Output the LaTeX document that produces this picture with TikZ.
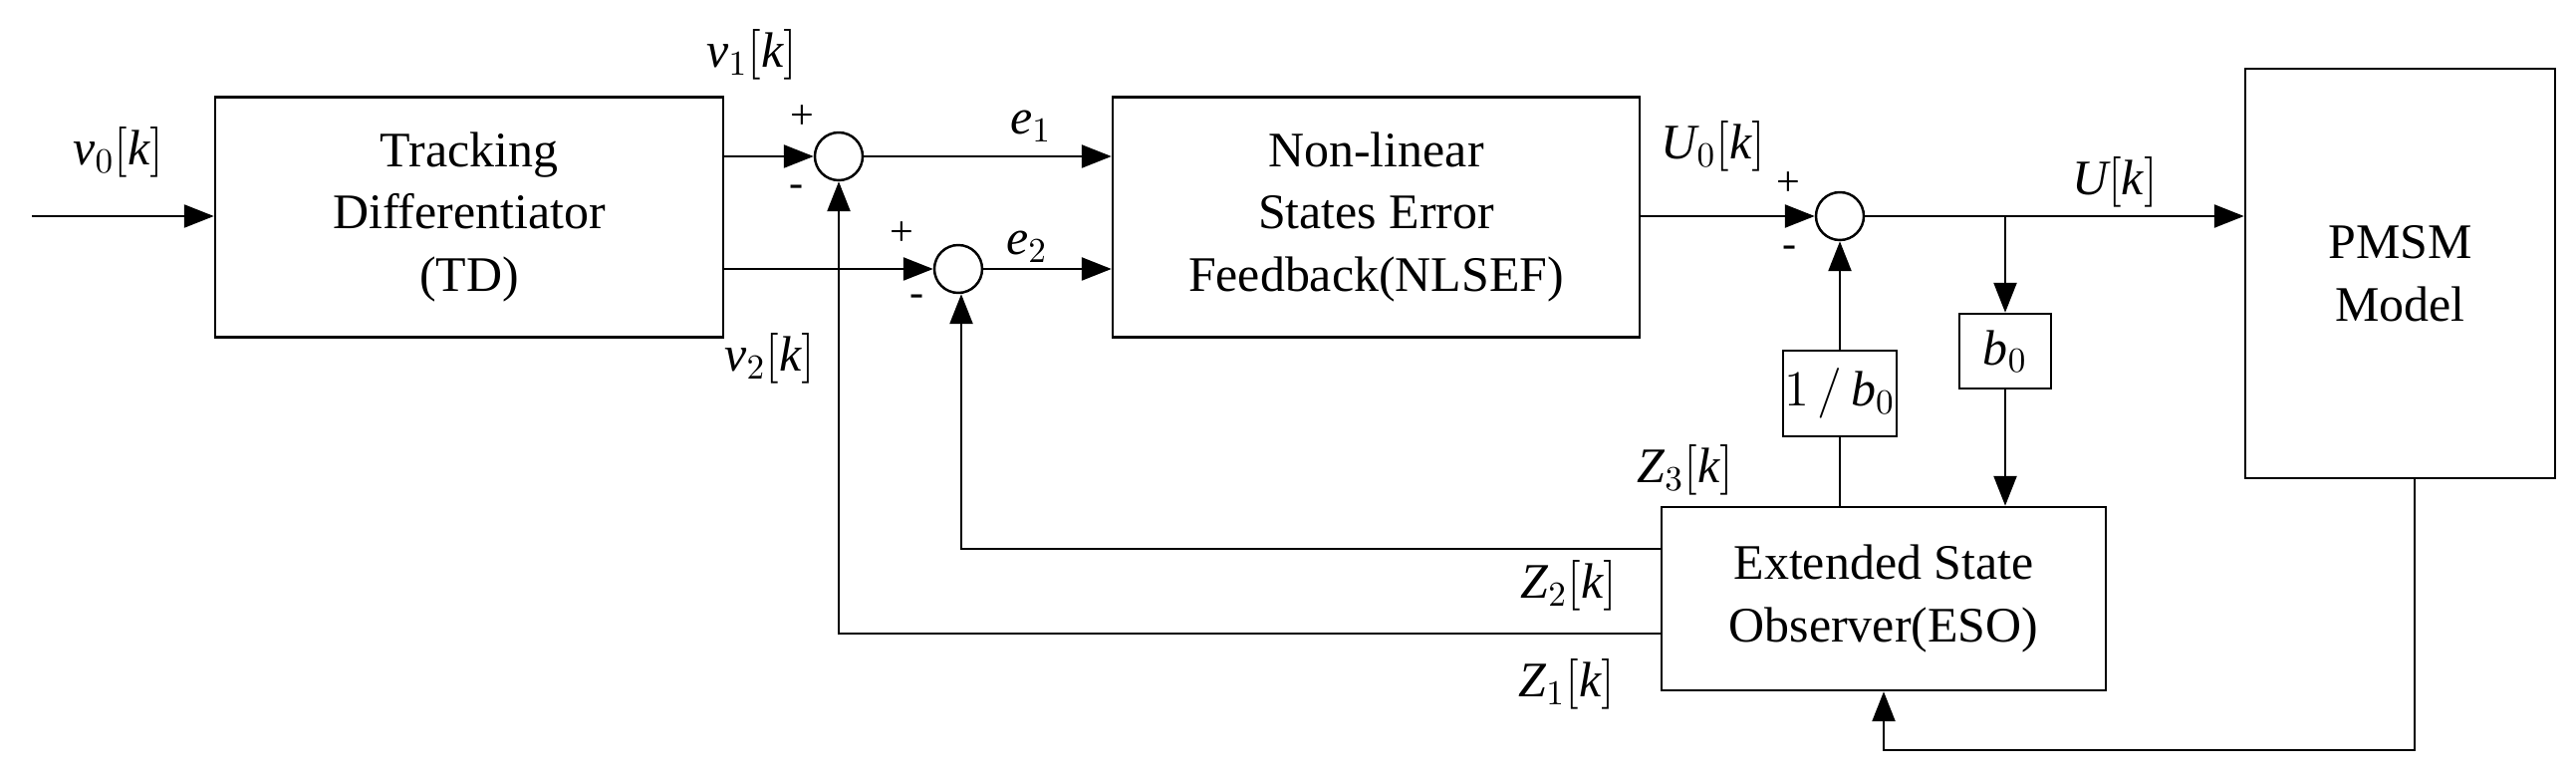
\documentclass[tikz,border=0pt]{standalone}
\usepackage{fontspec}
\setmainfont{Liberation Serif}
\usetikzlibrary{arrows.meta,positioning}

\tikzset{
  blk/.style={draw, rectangle, line width=0.7pt, align=center, inner sep=0pt},
  summ/.style={draw, circle, line width=0.7pt, minimum size=4.8mm, inner sep=0pt},
  sig/.style={inner sep=0pt},
  sgn/.style={inner sep=0pt, font=\fontsize{12}{12}\selectfont},
  >={Triangle[length=3mm,width=2.3mm]}
}

\begin{document}
\begin{tikzpicture}[line width=0.7pt, font=\fontsize{14.2}{17.9}\selectfont]
    \useasboundingbox (0,0) rectangle (25.86,7.79);

    % blocks
    \node [blk, minimum width=5.10cm, minimum height=2.41cm] (td) at (4.71,5.61) {Tracking\\Differentiator\\(TD)};
    \node [blk, minimum width=5.29cm, minimum height=2.41cm] (nlsef) at (13.815,5.61) {Non-linear\\States Error\\Feedback(NLSEF)};
    \node [blk, minimum width=3.11cm, minimum height=4.11cm] (pmsm) at (24.095,5.045) {PMSM\\Model};
    \node [blk, minimum width=4.46cm, minimum height=1.84cm] (eso) at (18.91,1.78) {Extended State\\Observer(ESO)};
    \node [blk, minimum width=0.92cm, minimum height=0.75cm] (gain) at (20.13,4.265) {$\textit{b}_0$};
    \node [blk, minimum width=1.14cm, minimum height=0.86cm] (inv) at (18.47,3.84) {$1\,/\,\textit{b}_0$};

    % summing points
    \node [summ] (sum1) at (8.42,6.22) {};
    \node [summ] (sum2) at (9.62,5.09) {};
    \node [summ] (sum3) at (18.47,5.62) {};

    \coordinate (in) at (0.32,5.62);
    \coordinate (split) at (20.13,5.62);

    % forward path
    \draw [->] (in) -- (td.west |- in);
    \draw [->] (td.east |- sum1) -- (sum1);
    \draw [->] (td.east |- sum2) -- (sum2);
    \draw [->] (sum1) -- (nlsef.west |- sum1);
    \draw [->] (sum2) -- (nlsef.west |- sum2);
    \draw [->] (nlsef.east |- sum3) -- (sum3);
    \draw [->] (sum3) -- (pmsm.west |- sum3);
    \draw [->] (split) -- (gain);
    \draw [->] (gain) -- (eso.north -| gain);
    \draw (eso.north -| inv) -- (inv);
    \draw [->] (inv) -- (sum3);

    % feedback
    \draw [->] ([yshift=5mm]eso.west) -| ([xshift=0.3mm]sum2.south);
    \draw [->] ([yshift=-3.5mm]eso.west) -| (sum1.south);
    \draw [->] ([xshift=1.45mm]pmsm.south) |- (21,0.26) -| (eso.south);

    % signals
    \node [sig] (v0) at (1.19,6.26) {$\textit{v}_0[\textit{k}]$};
    \node [sig] (v1) at (7.55,7.24) {$\textit{v}_1[\textit{k}]$};
    \node [sig] (v2) at (7.73,4.19) {$\textit{v}_2[\textit{k}]$};
    \node [sig] (e1) at (10.35,6.52) {$\textit{e}_1$};
    \node [sig] (e2) at (10.31,5.31) {$\textit{e}_2$};
    \node [sig] (u0) at (17.2,6.32) {$\textit{U}_0[\textit{k}]$};
    \node [sig] (u) at (21.23,5.96) {$\textit{U}[\textit{k}]$};
    \node [sig] (z3) at (16.92,3.07) {$\textit{Z}_3[\textit{k}]$};
    \node [sig] (z2) at (15.75,1.91) {$\textit{Z}_2[\textit{k}]$};
    \node [sig] (z1) at (15.73,0.92) {$\textit{Z}_1[\textit{k}]$};

    % signs
    \node [sgn] (p1) at (8.05,6.61) {+};
    \node [sgn] (m1) at (8.00,5.87) {-};
    \node [sgn] (p2) at (9.05,5.44) {+};
    \node [sgn] (m2) at (9.21,4.77) {-};
    \node [sgn] (p3) at (17.95,5.94) {+};
    \node [sgn] (m3) at (17.97,5.26) {-};
\end{tikzpicture}
\end{document}
